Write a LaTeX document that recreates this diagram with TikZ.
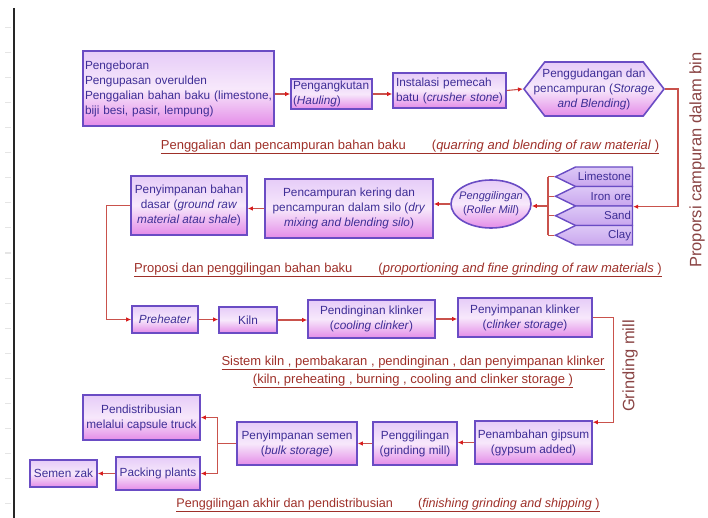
\documentclass[tikz,border=0pt]{standalone}
\usepackage{fontspec}
\setmainfont{Liberation Sans}
\usetikzlibrary{arrows.meta,shapes.geometric,shapes.symbols,positioning}

\definecolor{boxline}{HTML}{6A4CC4}
\definecolor{boxtop}{HTML}{E6CCF8}
\definecolor{boxmid}{HTML}{F7E8FB}
\definecolor{boxbot}{HTML}{E48CE8}
\definecolor{mattop}{HTML}{DCC8F6}
\definecolor{matbot}{HTML}{C9A6EE}
\definecolor{boxtext}{HTML}{3E2E96}
\definecolor{flowred}{HTML}{C9524C}
\definecolor{tipred}{HTML}{D81E1E}
\definecolor{captred}{HTML}{9E3029}
\definecolor{sidebrown}{HTML}{8A4444}

\tikzset{
  box/.style={draw=boxline, line width=1.6pt, top color=boxtop, bottom color=boxbot,
    middle color=boxmid, text=boxtext, font=\fontsize{11.8}{15}\selectfont,
    align=center, inner sep=2pt},
  boxtxt/.style={text=boxtext, font=\fontsize{11.8}{15}\selectfont, align=center, inner sep=0pt},
  sz/.style 2 args={minimum width=#1pt, minimum height=#2pt},
  mat/.style={shape=signal, signal to=west, signal pointer angle=52, draw=boxline,
    line width=1.4pt, top color=mattop, bottom color=matbot, text=boxtext,
    font=\fontsize{11.5}{12}\selectfont, minimum height=19.5pt,
    inner sep=0pt, inner xsep=1.5pt, text width=54pt, align=right},
  link/.style={draw=flowred, line width=1.1pt},
  flow/.style={link, -{Latex[length=5pt,width=4.5pt,color=tipred]}},
  capt/.style={text=captred, font=\fontsize{13}{18}\selectfont, inner sep=0pt},
  side/.style={text=sidebrown, font=\fontsize{16.5}{18}\selectfont, rotate=90, inner sep=0pt}
}

\begin{document}
\begin{tikzpicture}[x=1pt,y=-1pt]
  \useasboundingbox (0,0) rectangle (708,518);
  % page margin
  \draw[line width=2pt, black!85] (14,8) -- (14,518);
  \foreach \y in {28,53,...,503}
    \draw[gray!20, line width=1pt] (5,\y) -- (11,\y);

  % quarrying and blending
  \node[box, text width=187pt, align=left, minimum height=75pt] (drill) at (178.5,88.5)
    {Pengeboran\\Pengupasan overulden\\Penggalian bahan baku (limestone,\\biji besi, pasir, lempung)};
  \node[box, sz={81}{30}, text width=77pt, align=left] (haul) at (331.5,94)
    {Pengangkutan\\(\textit{Hauling})};
  \node[box, sz={113}{35}, text width=107pt, align=left] (crush) at (449.5,90.5)
    {Instalasi pemecah\\batu (\textit{crusher stone})};
  \node[box, shape=signal, signal to=east and west, signal pointer angle=105,
    sz={140}{54}] (blend) at (594,89) {};
  \node[boxtxt] (blend-txt) at (blend)
    {Penggudangan dan\\pencampuran (\textit{Storage}\\\textit{and Blending})};
  \draw[flow] (drill.east |- haul.west) -- (haul.west);
  \draw[flow] (haul.east) -- (haul.east -| crush.west);
  \draw[flow] (crush.east) -- (blend.west);
  \node[capt] (cap1) at (410,147)
    {\underline{Penggalian dan pencampuran bahan baku\hspace{2em}(\textit{quarring and blending of raw material} )}};

  % proportioning and raw grinding
  \foreach \name/\txt [count=\i] in {lime/Limestone, iron/Iron ore, sand/Sand, clay/Clay}
    \node[mat] (\name) at (604,157.25+19.5*\i) {\txt};
  \coordinate (bus) at (548,206);
  \foreach \name in {lime,iron,sand,clay}
    \draw[link] (\name.west) -- (\name.west -| bus);
  \draw[link] (lime.west -| bus) -- (clay.west -| bus);
  \draw[flow] (blend.east) -- ++(13,0) |- (iron.east |- iron.south);

  \node[box, ellipse, sz={80}{48}] (roller) at (491,204) {};
  \node[boxtxt, font=\fontsize{11}{14}\selectfont] (roller-txt) at (roller)
    {\textit{Penggilingan}\\(\textit{Roller Mill})};
  \node[box, sz={168}{59}] (drymix) at (349,208.5)
    {Pencampuran kering dan\\pencampuran dalam silo (\textit{dry}\\\textit{mixing and blending silo})};
  \node[box, sz={116}{59}] (rawstore) at (189,205.5)
    {Penyimpanan bahan\\dasar (\textit{ground raw}\\\textit{material atau shale})};
  \draw[flow] (bus) -- (bus -| roller.east);
  \draw[flow] (roller.west) -- (roller.west -| drymix.east);
  \draw[flow] (drymix.west) -- (drymix.west -| rawstore.east);
  \node[capt] (cap2) at (398,270)
    {\underline{Proposi dan penggilingan bahan baku\hspace{2em}(\textit{proportioning and fine grinding of raw materials} )}};
  \node[side] (bin) at (697,160) {Proporsi campuran dalam bin};

  % kiln system
  \node[box, sz={66}{27}] (preheat) at (165,319.5) {\textit{Preheater}};
  \node[box, sz={58}{26}] (kiln) at (248,320) {Kiln};
  \node[box, sz={127}{38}] (cool) at (371.5,319)
    {Pendinginan klinker\\(\textit{cooling clinker})};
  \node[box, sz={134}{39}] (clinker) at (525,317.5)
    {Penyimpanan klinker\\(\textit{clinker storage})};
  \draw[flow] (rawstore.west) -- ++(-24,0) |- (preheat.west);
  \draw[flow] (preheat.east) -- (preheat.east -| kiln.west);
  \draw[flow] (kiln.east) -- (kiln.east -| cool.west);
  \draw[flow] (cool.east) -- (cool.east -| clinker.west);
  \node[capt, align=center] (cap3) at (413,372)
    {\underline{Sistem kiln , pembakaran , pendinginan , dan penyimpanan klinker}\\
     \underline{(kiln, preheating , burning , cooling and clinker storage )}};
  \node[side] (mill) at (630,366) {Grinding mill};

  % finishing grinding and shipping
  \node[box, sz={117}{43}] (gypsum) at (533.5,442.5) {Penambahan gipsum\\(gypsum added)};
  \node[box, sz={84}{43}] (grind) at (415,443.5) {Penggilingan\\(grinding mill)};
  \node[box, sz={120}{43}] (cement) at (297,443.5) {Penyimpanan semen\\(\textit{bulk storage})};
  \node[box, sz={117}{45}] (truck) at (141.5,417.5) {Pendistribusian\\melalui capsule truck};
  \node[box, sz={84}{33}] (pack) at (158,473.5) {Packing plants};
  \node[box, sz={67}{27}] (zak) at (63.5,473.5) {Semen zak};
  \draw[flow] (clinker.east) -- ++(21,0) |- ([yshift=-2pt]gypsum.north east);
  \draw[flow] (gypsum.west) -- (gypsum.west -| grind.east);
  \draw[flow] (grind.west) -- (grind.west -| cement.east);
  \draw[link] (cement.west) -- ++(-19,0) coordinate (fork);
  \draw[flow] (fork) |- (truck.east);
  \draw[flow] (fork) |- (pack.east);
  \draw[flow] (pack.west) -- (zak.east);
  \node[capt, font=\fontsize{12.6}{18}\selectfont] (cap4) at (388,505)
    {\underline{Penggilingan akhir dan pendistribusian\hspace{2em}(\textit{finishing grinding and shipping} )}};
\end{tikzpicture}
\end{document}
